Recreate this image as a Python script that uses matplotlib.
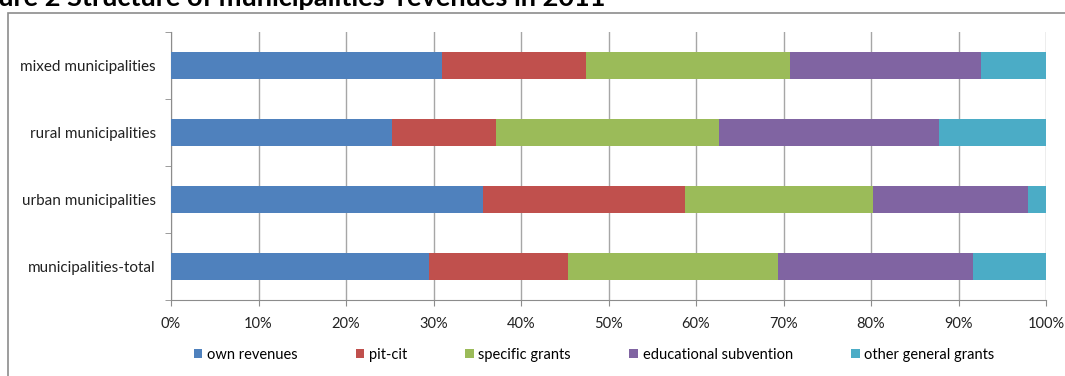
import matplotlib
matplotlib.use("Agg")
import matplotlib.pyplot as plt
from matplotlib.patches import Rectangle
import numpy as np

categories = ["municipalities-total", "urban municipalities", "rural municipalities", "mixed municipalities"]
series_names = ["own revenues", "pit-cit", "specific grants", "educational subvention", "other general grants"]
own_revenues = [29.5, 35.7, 25.2, 31.0]
pit_cit = [15.9, 23.0, 11.9, 16.4]
specific_grants = [24.0, 21.5, 25.5, 23.3]
educational_subvention = [22.3, 17.7, 25.2, 21.9]
other_general_grants = [8.3, 2.1, 12.2, 7.4]
xtick_labels = ["0%", "10%", "20%", "30%", "40%", "50%", "60%", "70%", "80%", "90%", "100%"]
title = "Figure 2 Structure of municipalities' revenues in 2011"

colors = ["#4F81BD", "#C0504D", "#9BBB59", "#8064A2", "#4BACC6"]
font = "Lato"
plt.rcParams['font.family'] = [font, 'DejaVu Sans']

W, H = 1065, 376
fig = plt.figure(figsize=(W / 100, H / 100), dpi=100)

# border frame
fig.patches.append(Rectangle((8 / W, -0.1), 1.2, 1 - 13 / H + 0.1, transform=fig.transFigure,
                             fill=False, edgecolor="#8c8c8c", linewidth=1.2))

ax = fig.add_axes([171 / W, 1 - 300 / H, (1046 - 171) / W, (300 - 32) / H])

series = [own_revenues, pit_cit, specific_grants, educational_subvention, other_general_grants]
y = np.arange(len(categories))
left = np.zeros(len(categories))
for name, vals, c in zip(series_names, series, colors):
    ax.barh(y, vals, left=left, height=0.39, color=c, label=name, zorder=3)
    left += np.array(vals)

ax.set_xlim(0, 100)
ax.set_ylim(-0.5, len(categories) - 0.5)
ax.set_xticks(np.arange(0, 101, 10))
ax.set_xticklabels(xtick_labels, fontsize=10.5, color="#222222")
ax.set_yticks(y)
ax.set_yticklabels(categories, fontsize=11, color="#222222")
ax.set_yticks(np.arange(-0.5, len(categories), 1), minor=True)
ax.tick_params(axis="y", which="major", length=0, pad=11)
ax.tick_params(axis="y", which="minor", length=4, color="#8c8c8c", direction="out")
ax.tick_params(axis="x", length=4, color="#8c8c8c", direction="out", pad=8)
ax.grid(axis="x", color="#a6a6a6", linewidth=1, zorder=0)
ax.set_axisbelow(True)
for s in ["top", "right"]:
    ax.spines[s].set_visible(False)
for s in ["left", "bottom"]:
    ax.spines[s].set_color("#8c8c8c")

fig.legend(loc="center", bbox_to_anchor=(594 / W, 1 - 355 / H), ncol=5, frameon=False,
           fontsize=10.5, handlelength=0.6, handleheight=0.6, handletextpad=0.3, columnspacing=4.0)

fig.text(605 / W, 1 - 6 / H, title, ha="right", va="baseline", fontsize=19.5, fontweight="bold",
         color="black")

fig.savefig("out.png", dpi=100)
